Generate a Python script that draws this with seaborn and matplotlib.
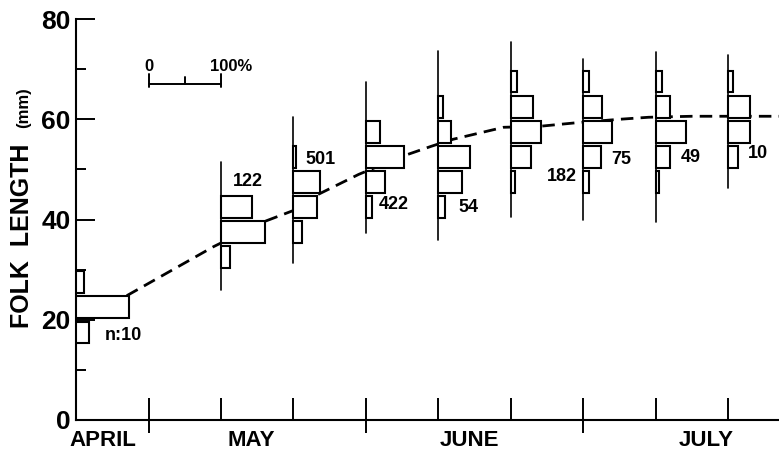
import numpy as np
import pandas as pd
import seaborn as sns
import matplotlib.pyplot as plt

# ---- data ----
# sampling dates as days after April 20 (ticks every 10 days)
sample_day = [0, 20, 30, 40, 50, 60, 70, 80, 90]
sample_n = ["n:10", "122", "501", "422", "54", "182", "75", "49", "10"]

# lower edge of each 5 mm length class
bins = [15, 20, 25, 30, 35, 40, 45, 50, 55, 60, 65]

# percentage of fish in each class, one list per sample
apr20 = [18, 73, 11, 0, 0, 0, 0, 0, 0, 0, 0]
may10 = [0, 0, 0, 12, 61, 43, 0, 0, 0, 0, 0]
may20 = [0, 0, 0, 0, 12, 33, 36, 4, 0, 0, 0]
jun01 = [0, 0, 0, 0, 0, 8, 27, 52, 19, 0, 0]
jun10 = [0, 0, 0, 0, 0, 9, 33, 43, 17, 7, 0]
jun20 = [0, 0, 0, 0, 0, 0, 6, 28, 42, 30, 8]
jun30 = [0, 0, 0, 0, 0, 0, 8, 25, 39, 26, 8]
jul10 = [0, 0, 0, 0, 0, 0, 5, 19, 41, 20, 9]
jul20 = [0, 0, 0, 0, 0, 0, 0, 14, 30, 30, 6]
samples = [apr20, may10, may20, jun01, jun10, jun20, jun30, jul10, jul20]

# vertical base line of each histogram (mm), April uses the y axis
base_lo = [None, 26, 31.4, 37.4, 36, 40.6, 40, 39.6, 46.2]
base_hi = [None, 51.4, 60.4, 67.4, 73.6, 75.4, 72, 73.4, 72.8]

# growth curve (dashed)
curve_day = [7, 19, 26, 30, 33.4, 39, 45, 49, 52, 59, 64, 69, 75, 79, 85, 97]
curve_mm = [24.8, 34.6, 39.6, 41.8, 45, 49, 52.6, 54.6, 56, 58.4, 58.6, 59.3, 60, 60.4, 60.6, 60.6]

months = ["APRIL", "MAY", "JUNE", "JULY"]
month_day = [3.7, 24.2, 54.3, 87]
month_bounds = [10, 40, 70]
minor_days = [20, 30, 50, 60, 80, 90]

# n label positions (day, mm)
n_pos = [(4.0, 16.8), (21.7, 47.6), (31.7, 52), (41.8, 43), (52.7, 42.4),
         (65, 48.6), (73.9, 52), (83.4, 52.4), (92.7, 53.2)]

PCT_TO_DAYS = 10 / 100  # 100 % == 10 days on the time axis

sns.set_style("ticks")
plt.rcParams["font.family"] = ["Liberation Sans", "DejaVu Sans"]
plt.rcParams.update({"text.color": "black", "axes.edgecolor": "black",
                     "xtick.color": "black", "ytick.color": "black",
                     "axes.labelcolor": "black"})

fig = plt.figure(figsize=(7.79, 4.5), dpi=100)
ax = fig.add_axes([0.0976, 0.0667, 0.9024, 0.891])

# dashed growth curve, behind the white bars
curve = pd.DataFrame({"day": curve_day, "mm": curve_mm})
sns.lineplot(data=curve, x="day", y="mm", ax=ax, color="black", lw=2.0,
             linestyle=(0, (4.5, 2.6)), zorder=1)

# length-frequency histograms
for day, pct, lo, hi in zip(sample_day, samples, base_lo, base_hi):
    b = np.array(bins) + 2.5
    w = np.array(pct) * PCT_TO_DAYS
    keep = w > 0
    ax.barh(b[keep], w[keep], left=day, height=4.3, color="white",
            edgecolor="black", linewidth=1.5, zorder=3)
    if lo is not None:
        ax.plot([day, day], [lo, hi], color="black", lw=1.2, zorder=4)

for (x, y), s in zip(n_pos, sample_n):
    ax.text(x, y, s, ha="left", va="center", fontsize=13, fontweight="bold", zorder=5)

# 0-100 % scale bar
sb_pct = [0, 50, 100]
sb_x = [10 + p * PCT_TO_DAYS for p in sb_pct]
ax.plot([sb_x[0], sb_x[-1]], [67, 67], color="black", lw=1.4)
for i, x in enumerate(sb_x):
    lo, hi = (67, 68.4) if i == 1 else (66.4, 69)
    ax.plot([x, x], [lo, hi], color="black", lw=1.4)
ax.text(sb_x[0], 70.6, "0", ha="center", va="center", fontsize=12, fontweight="bold")
ax.text(sb_x[-1] - 1.5, 70.6, "100%", ha="left", va="center", fontsize=12, fontweight="bold")

# axes styling
ax.set_xlim(0, 97)
ax.set_ylim(0, 80)
ax.set_xlabel("")
ax.set_ylabel("")
for s in ["top", "right"]:
    ax.spines[s].set_visible(False)
ax.spines["left"].set_linewidth(1.5)
ax.spines["bottom"].set_linewidth(1.5)

ax.set_yticks([0, 20, 40, 60, 80])
ax.set_yticks([10, 30, 50, 70], minor=True)
ax.tick_params(axis="y", which="major", direction="in", length=14, width=1.4,
               labelsize=19, pad=4)
ax.tick_params(axis="y", which="minor", direction="in", length=7, width=1.4)
for t in ax.get_yticklabels():
    t.set_fontweight("bold")

ax.set_xticks(month_bounds + minor_days)
ax.set_xticklabels([])
ax.tick_params(axis="x", which="major", direction="in", length=16, width=1.4)
sec = ax.secondary_xaxis("bottom")
sec.set_xticks(month_bounds)
sec.set_xticklabels([])
sec.tick_params(direction="out", length=9, width=1.4)
sec.spines["bottom"].set_visible(False)

for m, d in zip(months, month_day):
    ax.text(d, -0.05, m, transform=ax.get_xaxis_transform(), ha="center",
            va="center", fontsize=16, fontweight="bold")

fig.text(0.028, 0.475, "FOLK  LENGTH", rotation=90, ha="center", va="center",
         fontsize=18, fontweight="bold")
fig.text(0.030, 0.76, "(mm)", rotation=90, ha="center", va="center",
         fontsize=12, fontweight="bold")

fig.savefig("out.png", dpi=100)
